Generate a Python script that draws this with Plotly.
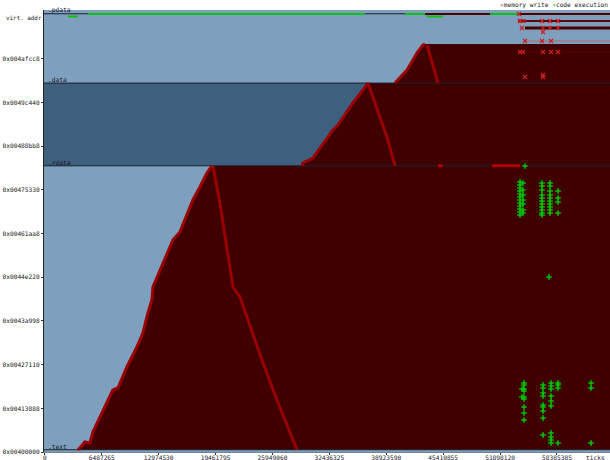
import plotly.graph_objects as go

IMAGE_BASE = 0x400000
FONT = "DejaVu Sans Mono"
FS = 6.2

# ---- axes -----------------------------------------------------------------
x_tick_vals = [0, 6487265, 12974530, 19461795, 25949060, 32436325,
               38923590, 45410855, 51898120, 58385385]
y_tick_labels = ["0x00400000", "0x00413888", "0x00427110", "0x0043a998",
                 "0x0044e220", "0x00461aa8", "0x00475330", "0x00488bb8",
                 "0x0049c440", "0x004afcc8"]
x_range = [-100000, 64430000]
y_range = [0, 809744]          # RVA

# ---- PE sections (RVA) -------------------------------------------------------
section_names = [".text", ".rdata", ".data", ".pdata"]
section_rva = [0x1000, 0x80000, 0xA5000, 0xC4000]
section_colors = ["#7f9fbf", "#3f5f7f", "#7f9fbf", "#7f9fbf"]

# ---- written-memory frontier (ticks, RVA) ------------------------------------
text_up_tick = [3763320, 3991400, 4561600, 5131800, 5473920, 7754720, 8324920,
                9351280, 10491680, 11175920, 11746120, 12202280, 12316320,
                13114600, 14597120, 15395400, 16877920, 17676200, 18474480,
                19044680]
text_up_rva = [4096, 7328, 18320, 16488, 36640, 113584, 117248, 155720,
               192360, 218008, 254648, 278464, 302280, 333424, 388384,
               403040, 461664, 485480, 511128, 524288]
text_down_tick = [19158720, 19957000, 21439520, 22237800, 23036080, 24746680,
                  26457280, 27597680, 28738080]
text_down_rva = [524288, 456168, 302280, 283960, 247320, 168544, 95264,
                 49464, 4096]

rdata_up_tick = [29308280, 29422320, 30562720, 32843520, 33413720, 35124320,
                 36264720, 36720880, 36834920]
rdata_up_rva = [524288, 529448, 538608, 589904, 599064, 639368, 663184,
                674176, 675840]
rdata_down_tick = [36834920, 37633200, 39001680, 39914000]
rdata_down_rva = [675840, 639368, 577080, 524288]

data_up_tick = [39914000, 40484200, 41282480, 41966720, 42422880, 43107120,
                43335200]
data_up_rva = [675840, 685168, 699824, 718144, 730968, 745624, 747456]
data_down_tick = [43563280, 44247520, 44817720]
data_down_rva = [745624, 705320, 675840]

# ---- horizontal write runs (RVA, start tick, end tick) --------------------------
run_rva = [802416, 789592, 776768, 752952, 732800]
run_start = [43335200, 53940920, 54739200, 54739200, 54169000]
run_end = [64430000, 64430000, 64430000, 64430000, 64430000]
run_colors = ["#4a0000", "#5a0808", "#4a0000", "#b06a6a", "#5c0000"]
run_widths = [2, 2, 3, 1, 1]

hot_rva = [789592, 524500, 524500]
hot_start = [53940920, 50975880, 44817720]
hot_end = [54853240, 54169000, 45387920]

# code execution runs along .pdata
exec_run_rva = [802416, 802416, 802416, 797836, 797836]
exec_run_start = [4903720, 41054400, 50747800, 2622920, 43563280]
exec_run_end = [36492800, 43335200, 53940920, 3763320, 45387920]

# ---- isolated events -----------------------------------------------------------
write_tick = [54054960, 54169000, 56677880, 57590200, 58502520, 54397080,
              56791920, 57590200, 58502520, 56791920, 54739200, 56677880,
              57704240, 54169000, 54511120, 56791920, 57704240, 58502520,
              54739200, 56791920, 56791920]
write_rva = [802416, 789592, 789592, 789592, 789592, 776768, 776768, 776768,
             776768, 769440, 752952, 752952, 752952, 732800, 732800, 732800,
             732800, 732800, 687000, 687000, 690664]

exec_tick = [
    54739200,
    54169000, 54169000, 54169000, 54169000, 54169000, 54169000, 54169000,
    54169000, 54169000, 54169000, 54169000, 54169000,
    54511120, 54511120, 54511120, 54511120, 54511120, 54511120, 54511120,
    56677880, 56677880, 56677880, 56677880, 56677880, 56677880, 56677880,
    56677880, 56677880, 56677880, 56677880,
    57590200, 57590200, 57590200, 57590200, 57590200, 57590200, 57590200,
    57590200, 57590200, 57590200,
    58502520, 58502520, 58502520, 58502520,
    57476160,
    54625160, 54625160, 54625160, 54625160, 54625160, 54625160, 54625160,
    54625160, 54625160, 54397080, 54397080,
    56791920, 56791920, 56791920, 56791920, 56791920, 56791920, 56791920,
    56791920, 56791920,
    57704240, 57704240, 57704240, 57704240, 57704240, 57704240, 57704240,
    57704240, 57704240, 57704240,
    58502520, 58502520, 58502520, 58502520,
    62265840, 62265840, 62265840,
]
exec_rva = [
    523952,
    494640, 489144, 483648, 478152, 472656, 467160, 461664, 456168, 450672,
    445176, 439680, 434184,
    492808, 479984, 470824, 461664, 454336, 443344, 437848,
    492808, 487312, 479984, 470824, 465328, 459832, 454336, 448840, 443344,
    437848, 434184,
    492808, 487312, 478152, 470824, 465328, 459832, 454336, 448840, 443344,
    437848,
    478152, 465328, 458000, 437848,
    320600,
    126408, 122744, 115416, 111752, 100760, 97096, 82440, 71448, 58624,
    115416, 100760,
    122744, 117248, 108088, 102592, 86104, 82440, 75112, 62288, 31144,
    126408, 120912, 115416, 102592, 93432, 84272, 34808, 27480, 21984, 16488,
    126408, 122744, 117248, 16488,
    126408, 117248, 16488,
]


def segs(starts, ends, levels):
    xs, ys = [], []
    for a, b, y in zip(starts, ends, levels):
        xs += [a, b, None]
        ys += [y, y, None]
    return xs, ys


fig = go.Figure()
x0, x1 = x_range

# section backgrounds
bounds = section_rva + [y_range[1]]
for i, name in enumerate(section_names):
    lo, hi = bounds[i], bounds[i + 1]
    fig.add_trace(go.Scatter(x=[x0, x1, x1, x0, x0], y=[lo, lo, hi, hi, lo],
                             fill="toself", fillcolor=section_colors[i],
                             line=dict(width=0), mode="lines",
                             hoverinfo="skip", showlegend=False))

FILL = "#400000"
# written areas
fig.add_trace(go.Scatter(x=text_up_tick + [x1, x1], y=text_up_rva + [section_rva[1], section_rva[0]],
                         fill="toself", fillcolor=FILL, line=dict(width=0), mode="lines",
                         hoverinfo="skip", showlegend=False))
fig.add_trace(go.Scatter(x=rdata_up_tick + [x1, x1], y=rdata_up_rva + [section_rva[2], section_rva[1]],
                         fill="toself", fillcolor=FILL, line=dict(width=0), mode="lines",
                         hoverinfo="skip", showlegend=False))
fig.add_trace(go.Scatter(x=data_up_tick + [x1, x1], y=data_up_rva + [data_up_rva[-1], section_rva[2]],
                         fill="toself", fillcolor=FILL, line=dict(width=0), mode="lines",
                         hoverinfo="skip", showlegend=False))

# section borders
sx, sy = segs([x0] * len(section_rva), [x1] * len(section_rva), section_rva)
fig.add_trace(go.Scatter(x=sx, y=sy, mode="lines", line=dict(color="#18202a", width=1),
                         hoverinfo="skip", showlegend=False))

# horizontal write runs
for r, a, b, c, w in zip(run_rva, run_start, run_end, run_colors, run_widths):
    fig.add_trace(go.Scatter(x=[a, b], y=[r, r], mode="lines", line=dict(color=c, width=w),
                             hoverinfo="skip", showlegend=False))

# code execution runs
ex, ey = segs(exec_run_start, exec_run_end, exec_run_rva)
fig.add_trace(go.Scatter(x=ex, y=ey, mode="lines", line=dict(color="#10c010", width=2),
                         hoverinfo="skip", showlegend=False))

# sweeping writes
RED = "#9a0000"
for xs, ys in [(text_up_tick, text_up_rva), (text_down_tick, text_down_rva),
               (rdata_up_tick, rdata_up_rva), (rdata_down_tick, rdata_down_rva),
               (data_up_tick, data_up_rva), (data_down_tick, data_down_rva)]:
    fig.add_trace(go.Scatter(x=xs, y=ys, mode="lines", line=dict(color=RED, width=3),
                             hoverinfo="skip", showlegend=False))

hx, hy = segs(hot_start, hot_end, hot_rva)
fig.add_trace(go.Scatter(x=hx, y=hy, mode="lines", line=dict(color="#b00000", width=3),
                         hoverinfo="skip", showlegend=False))

# point events
fig.add_trace(go.Scatter(x=write_tick, y=write_rva, mode="markers",
                         marker=dict(symbol="x-thin", size=4, line=dict(width=1.2, color="#c81e1e")),
                         name="memory write", hoverinfo="skip", showlegend=False))
fig.add_trace(go.Scatter(x=exec_tick, y=exec_rva, mode="markers",
                         marker=dict(symbol="cross-thin", size=4, line=dict(width=1.6, color="#00c000")),
                         name="code execution", hoverinfo="skip", showlegend=False))

annotations = []
for name, rva in zip(section_names, section_rva):
    annotations.append(dict(x=0, y=rva, xref="x", yref="y", text=name, showarrow=False,
                            xanchor="left", yanchor="bottom", xshift=1, yshift=-2,
                            font=dict(family=FONT, size=FS, color="#101820")))
annotations.append(dict(x=(4 - 44) / 566, y=(452 - 18) / 442, xref="paper", yref="paper",
                        text="virt. addr.", showarrow=False, xanchor="left", yanchor="middle",
                        font=dict(family=FONT, size=5.9, color="#222")))
annotations.append(dict(x=1, y=0, xref="paper", yref="paper", text="ticks",
                        showarrow=False, xanchor="right", yanchor="top", xshift=-3, yshift=0,
                        font=dict(family=FONT, size=FS, color="#222")))
annotations.append(dict(x=1, y=1, xref="paper", yref="paper",
                        text='<span style="color:#e06060">×</span>memory write '
                             '<span style="color:#10c010">+</span>code execution',
                        showarrow=False, xanchor="right", yanchor="bottom", yshift=-1,
                        font=dict(family=FONT, size=FS, color="#222")))

fig.update_layout(
    width=610, height=460,
    margin=dict(l=44, r=0, t=10, b=8, autoexpand=False),
    paper_bgcolor="white", plot_bgcolor="#7f9fbf",
    showlegend=False,
    annotations=annotations,
    xaxis=dict(range=x_range, tickvals=x_tick_vals, ticktext=[str(v) for v in x_tick_vals],
               ticks="outside", ticklen=2, tickcolor="#333", showgrid=False, zeroline=False,
               showline=True, linecolor="#6f8193", linewidth=1, automargin=False,
               ticklabelstandoff=-2,
               tickfont=dict(family=FONT, size=FS, color="#222")),
    yaxis=dict(range=y_range,
               tickvals=[int(t, 16) - IMAGE_BASE for t in y_tick_labels],
               ticktext=y_tick_labels, automargin=False,
               ticks="outside", ticklen=2, tickcolor="#333", showgrid=False, zeroline=False,
               showline=True, linecolor="#222", linewidth=1,
               tickfont=dict(family=FONT, size=FS, color="#222")),
)

fig.write_html("out.html")
